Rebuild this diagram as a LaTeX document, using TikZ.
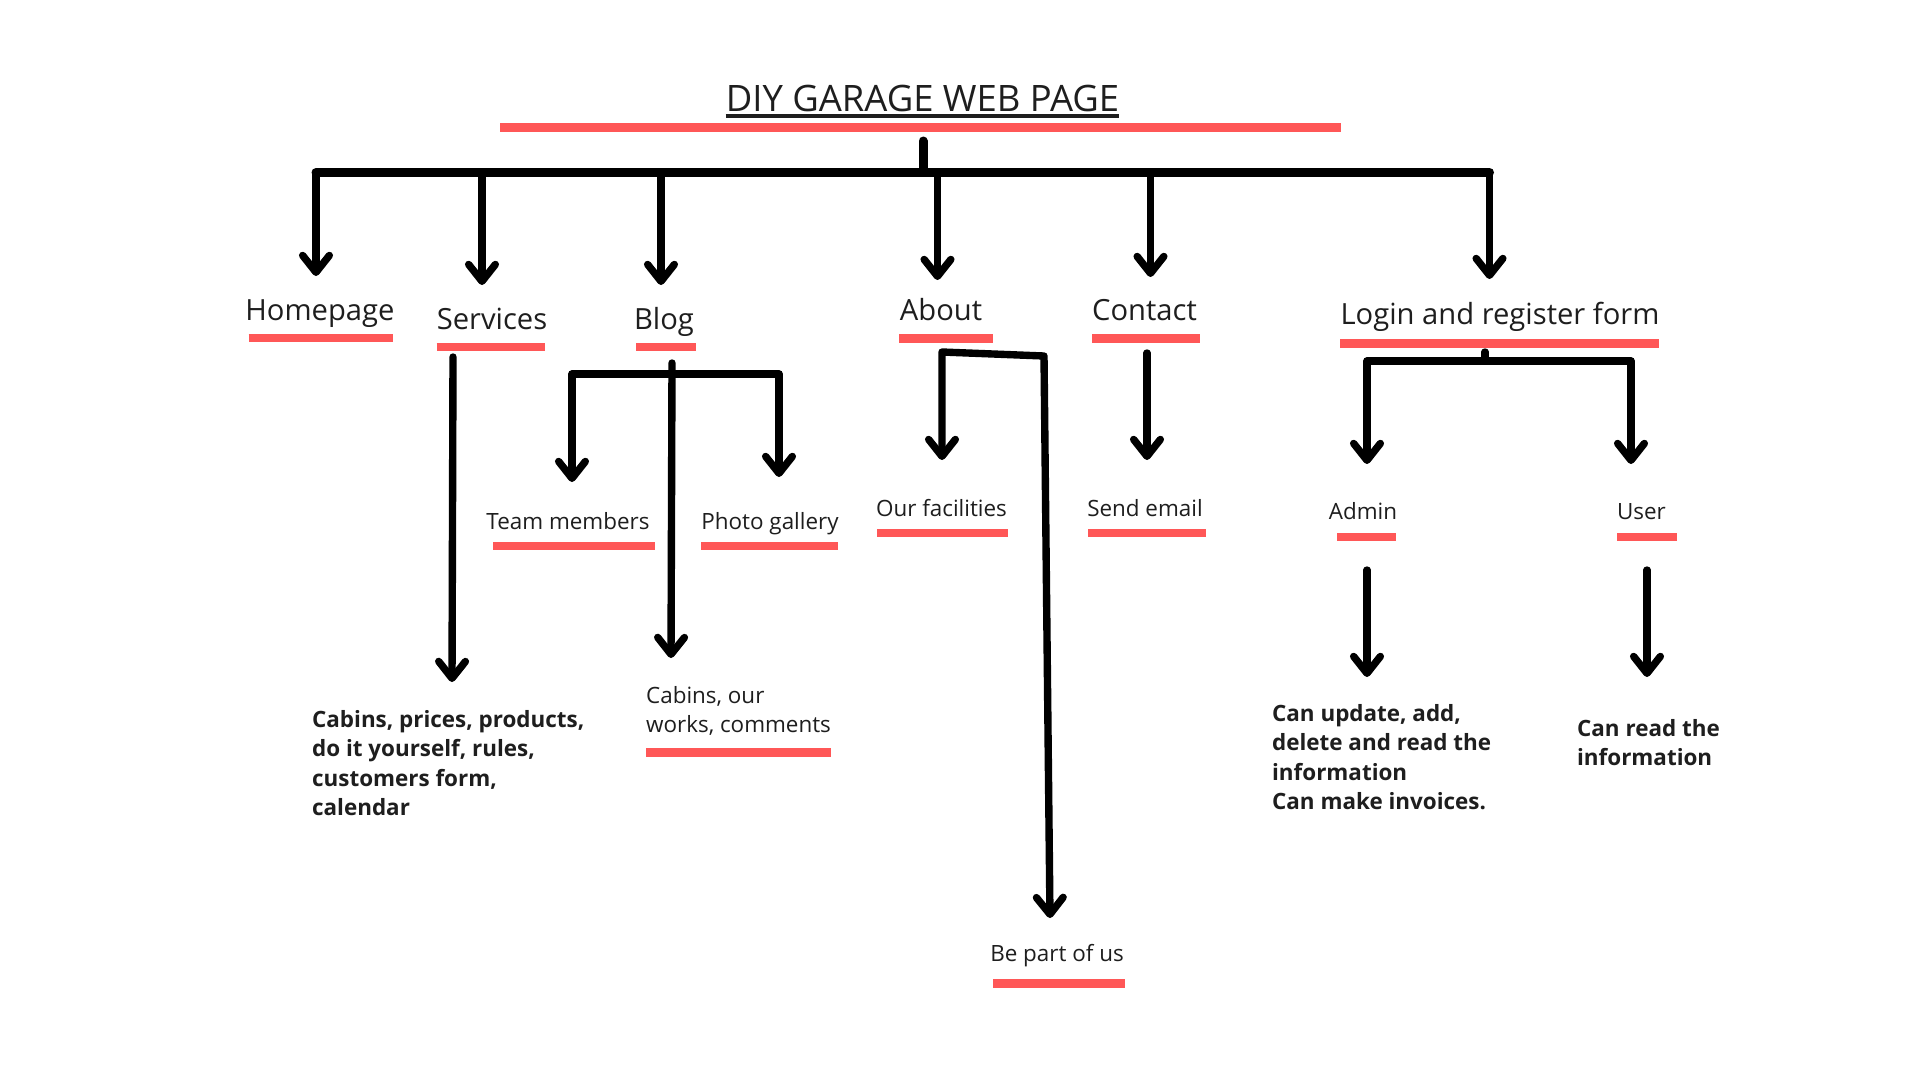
\documentclass[tikz,border=0pt]{standalone}
\usepackage{fontspec}
\setmainfont{Open Sans}
\usetikzlibrary{arrows.meta}
\definecolor{barred}{HTML}{FF5757}
\definecolor{ink}{HTML}{1E1E1E}

\begin{document}
\begin{tikzpicture}[x=0.05cm, y=-0.05cm,
  >={Straight Barb[length=24pt, width=38pt, round]},
  every node/.style={inner sep=0pt, text=ink},
  titletext/.style={anchor=base, font=\fontsize{51.8}{60}\selectfont},
  heading/.style={anchor=base, font=\fontsize{41.5}{50}\selectfont},
  sublabel/.style={anchor=base, font=\fontsize{31.9}{42}\selectfont},
  notes/.style={anchor=base west, font=\fontsize{31.9}{42}\selectfont},
  boldnotes/.style={anchor=base west, font=\fontsize{31.9}{42}\selectfont\bfseries},
  redbar/.style={draw=barred, line width=12.5pt},
  trunk/.style={draw=black, line width=12.8pt, line cap=round, line join=round},
  link/.style={draw=black, line width=10.5pt, line cap=round, line join=round}]

% canvas
\fill[white] (0,0) rectangle (1920,1080);
\useasboundingbox (0,0) rectangle (1920,1080);

% ---------- title ----------
\node[titletext] (title) at (922.5,111) {DIY GARAGE WEB PAGE};
\draw[ink, line width=4.6pt] ([yshift=-7pt]title.base west) -- ([yshift=-7pt]title.base east);
\draw[redbar] (500,127.5) -- (1341,127.5);

% ---------- first level ----------
\node[heading] (homepage) at (320,320) {Homepage};
\node[heading] (services) at (492,329) {Services};
\node[heading] (blog)     at (664,329) {Blog};
\node[heading] (about)    at (941,320) {About};
\node[heading] (contact)  at (1144.5,320) {Contact};
\node[heading] (login)    at (1500,324) {Login and register form};

\draw[redbar] (248.7,338) -- (393,338);
\draw[redbar] (436.5,347) -- (545,347);
\draw[redbar] (636,347) -- (696,347);
\draw[redbar] (899,338.5) -- (993,338.5);
\draw[redbar] (1092,338.5) -- (1200,338.5);
\draw[redbar] (1340,343.5) -- (1659,343.5);

% ---------- second level ----------
\node[sublabel] (team)       at (568,529) {Team members};
\node[sublabel] (photo)      at (770,529) {Photo gallery};
\node[sublabel] (facilities) at (941.5,516) {Our facilities};
\node[sublabel] (email)      at (1145,516) {Send email};
\node[sublabel] (admin)      at (1363,519) {Admin};
\node[sublabel] (user)       at (1641.5,519) {User};
\node[sublabel] (join)       at (1057,961) {Be part of us};

\draw[redbar] (493,546) -- (655,546);
\draw[redbar] (701,546) -- (838,546);
\draw[redbar] (877,533) -- (1008,533);
\draw[redbar] (1088,533) -- (1206,533);
\draw[redbar] (1337,537) -- (1396,537);
\draw[redbar] (1617,537) -- (1677,537);
\draw[redbar] (993,983.5) -- (1125,983.5);

% ---------- notes ----------
\node[boldnotes] (servicenotes) at (312,727)
  {\begin{tabular}[t]{@{}l@{}}Cabins, prices, products,\\ do it yourself, rules,\\ customers form,\\ calendar\end{tabular}};
\node[notes] (blognotes) at (646,703)
  {\begin{tabular}[t]{@{}l@{}}Cabins, our\\ works, comments\end{tabular}};
\draw[redbar] (646,752.5) -- (831,752.5);
\node[boldnotes] (adminnotes) at (1272,721)
  {\begin{tabular}[t]{@{}l@{}}Can update, add,\\ delete and read the\\ information\\ Can make invoices.\end{tabular}};
\node[boldnotes] (usernotes) at (1577,736)
  {\begin{tabular}[t]{@{}l@{}}Can read the\\ information\end{tabular}};

% ---------- connector end points ----------
\coordinate (root)        at (923,141);
\coordinate (hub)         at (923,172.5);
\coordinate (homepage-in) at (316,276);
\coordinate (services-in) at (482,285);
\coordinate (blog-in)     at (661,285);
\coordinate (about-in)    at (937.5,280);
\coordinate (contact-in)  at (1150.5,277);
\coordinate (login-in)    at (1489.5,279);

\coordinate (services-out) at (453,357);
\coordinate (servicenotes-in) at (452,682);

\coordinate (blog-out)   at (672,363);
\coordinate (blog-fork)  at (672,374);
\coordinate (blognotes-in) at (671,658);
\coordinate (team-in)    at (572,482);
\coordinate (photo-in)   at (779,477);

\coordinate (about-out)     at (942,352);
\coordinate (about-turn)    at (1044,356);
\coordinate (facilities-in) at (942,460);
\coordinate (join-in)       at (1050,918);

\coordinate (contact-out) at (1147,353);
\coordinate (email-in)    at (1147,460);

\coordinate (login-out)  at (1485,352);
\coordinate (login-fork) at (1485,361);
\coordinate (admin-in)   at (1367,464);
\coordinate (user-in)    at (1631,464);

\coordinate (admin-out)      at (1367,570);
\coordinate (adminnotes-in)  at (1367,677);
\coordinate (user-out)       at (1647,570);
\coordinate (usernotes-in)   at (1647,677);

% ---------- connectors ----------
\draw[trunk] (root) -- (hub);
\draw[trunk] (homepage-in |- hub) -- (login-in |- hub);
\draw[link,->] (homepage-in |- hub) -- (homepage-in);
\draw[link,->] (services-in |- hub) -- (services-in);
\draw[link,->] (blog-in |- hub) -- (blog-in);
\draw[link,->] (about-in |- hub) -- (about-in);
\draw[link,->] (contact-in |- hub) -- (contact-in);
\draw[link,->] (login-in |- hub) -- (login-in);

\draw[link,->] (services-out) -- (servicenotes-in);

\draw[link,->] (blog-out) -- (blognotes-in);
\draw[link,<->] (team-in) -- (team-in |- blog-fork) -- (photo-in |- blog-fork) -- (photo-in);

\draw[link,<->] (facilities-in) -- (about-out) -- (about-turn) -- (join-in);

\draw[link,->] (contact-out) -- (email-in);

\draw[link] (login-out) -- (login-fork);
\draw[link,<->] (admin-in) -- (admin-in |- login-fork) -- (user-in |- login-fork) -- (user-in);

\draw[link,->] (admin-out) -- (adminnotes-in);
\draw[link,->] (user-out) -- (usernotes-in);
\end{tikzpicture}
\end{document}
